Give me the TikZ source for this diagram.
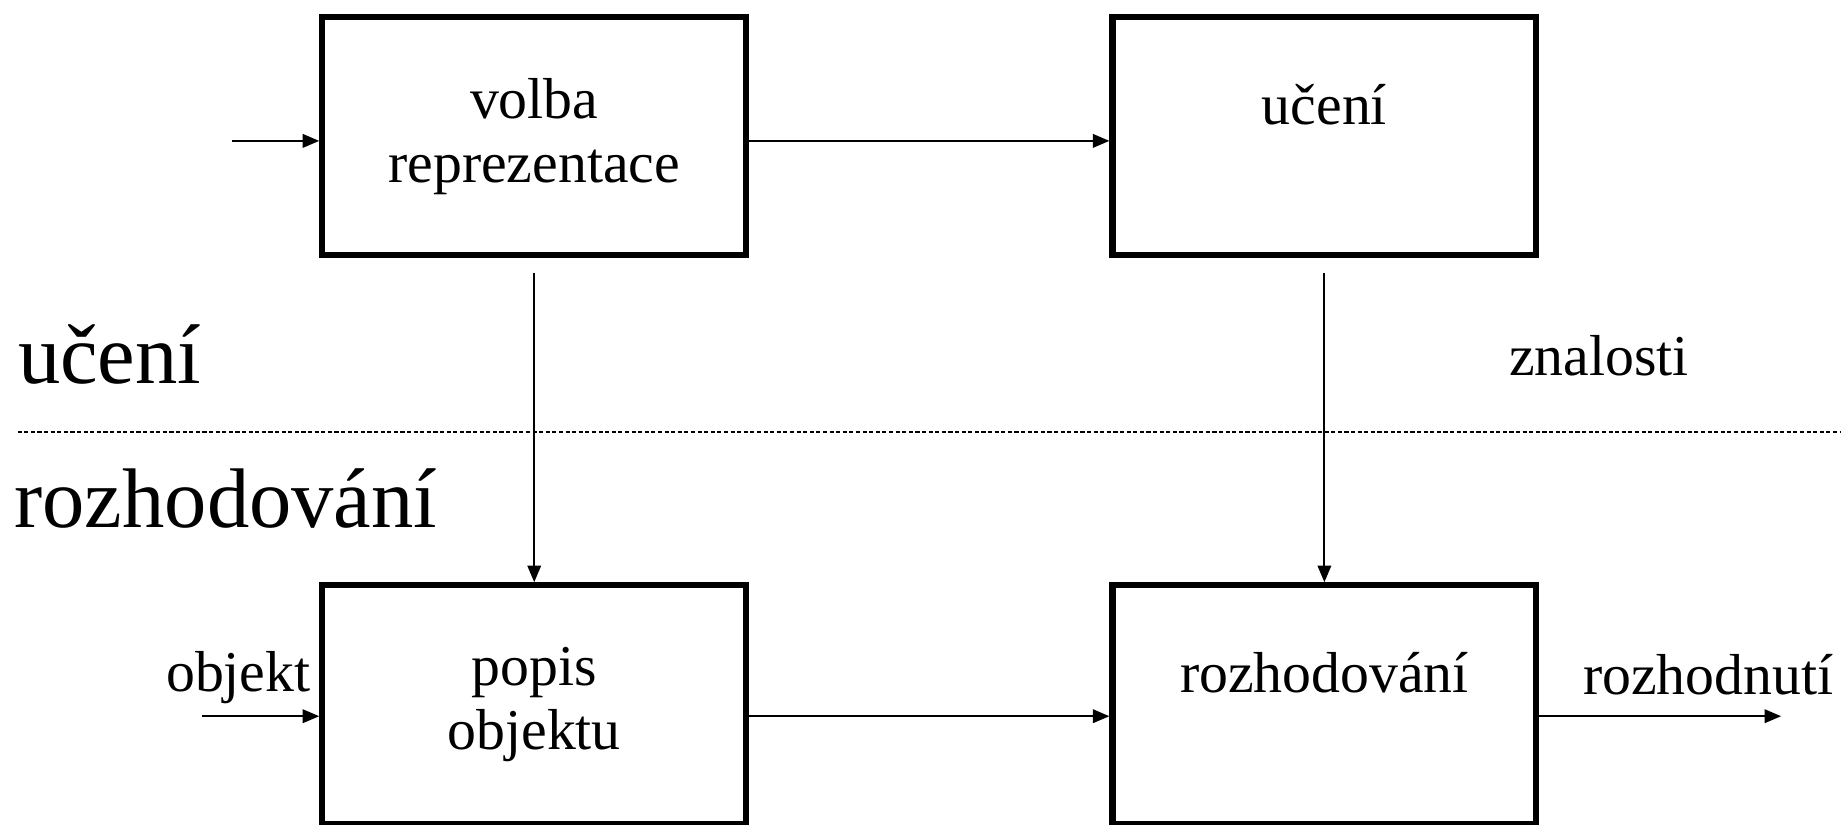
\documentclass[tikz,border=0pt]{standalone}
\usepackage{fontspec}
\setmainfont{Liberation Serif}
\usepackage{tikz}
\usetikzlibrary{calc,positioning,arrows.meta}
\tikzstyle{block}     = [rectangle, draw=black, line width=3pt, minimum width=7.22cm, minimum height=4.06cm, align=center, font=\fontsize{28}{31}\selectfont]
\tikzstyle{arrow}     = [line width=1.1pt, -{Triangle[length=8pt,width=6.5pt]}]
\tikzstyle{lbl}       = [inner sep=0pt, font=\fontsize{28}{31}\selectfont]
\tikzstyle{biglbl}    = [inner sep=0pt, anchor=west, font=\fontsize{41}{45}\selectfont]

\begin{document}
\begin{tikzpicture}[x=0.02cm, y=-0.02cm]
        \useasboundingbox (0,0) rectangle (1568,702);

        \node[block] (repr) at (455,116) {volba\\reprezentace};
        \node[block] (learn) at (1128,116) {učení\\\mbox{}};
        \node[block] (popis) at (455,600) {popis\\objektu};
        \node[block] (decide) at (1128,600) {rozhodování\\\mbox{}};

        \node[biglbl] (uceni) at (15,302) {učení};
        \node[biglbl] (rozh) at (12,425) {rozhodování};
        \node[lbl] (znal) at (1362,303) {znalosti};
        \node[lbl] (objlbl) at (203,577) {objekt};
        \node[lbl] (vysl) at (1455,575) {rozhodnutí};

        \coordinate (in1) at (198,120);
        \coordinate (in2) at (172,610);
        \coordinate (out) at (1517,610);
        \coordinate (dl) at (15,368);
        \coordinate (dr) at (1568,368);

        \draw[line width=0.6pt, dash pattern=on 2pt off 1.2pt] (dl) -- (dr);

        \draw[arrow] (in1) -- (in1 -| repr.west);
        \draw[arrow] (in1 -| repr.east) -- (in1 -| learn.west);
        \draw[arrow, line width=0.9pt, shorten <=0.24cm] (repr) -- (popis);
        \draw[arrow, line width=0.9pt, shorten <=0.24cm] (learn) -- (decide);
        \draw[arrow] (in2) -- (in2 -| popis.west);
        \draw[arrow] (in2 -| popis.east) -- (in2 -| decide.west);
        \draw[arrow] (in2 -| decide.east) -- (out);
    \end{tikzpicture}
\end{document}
